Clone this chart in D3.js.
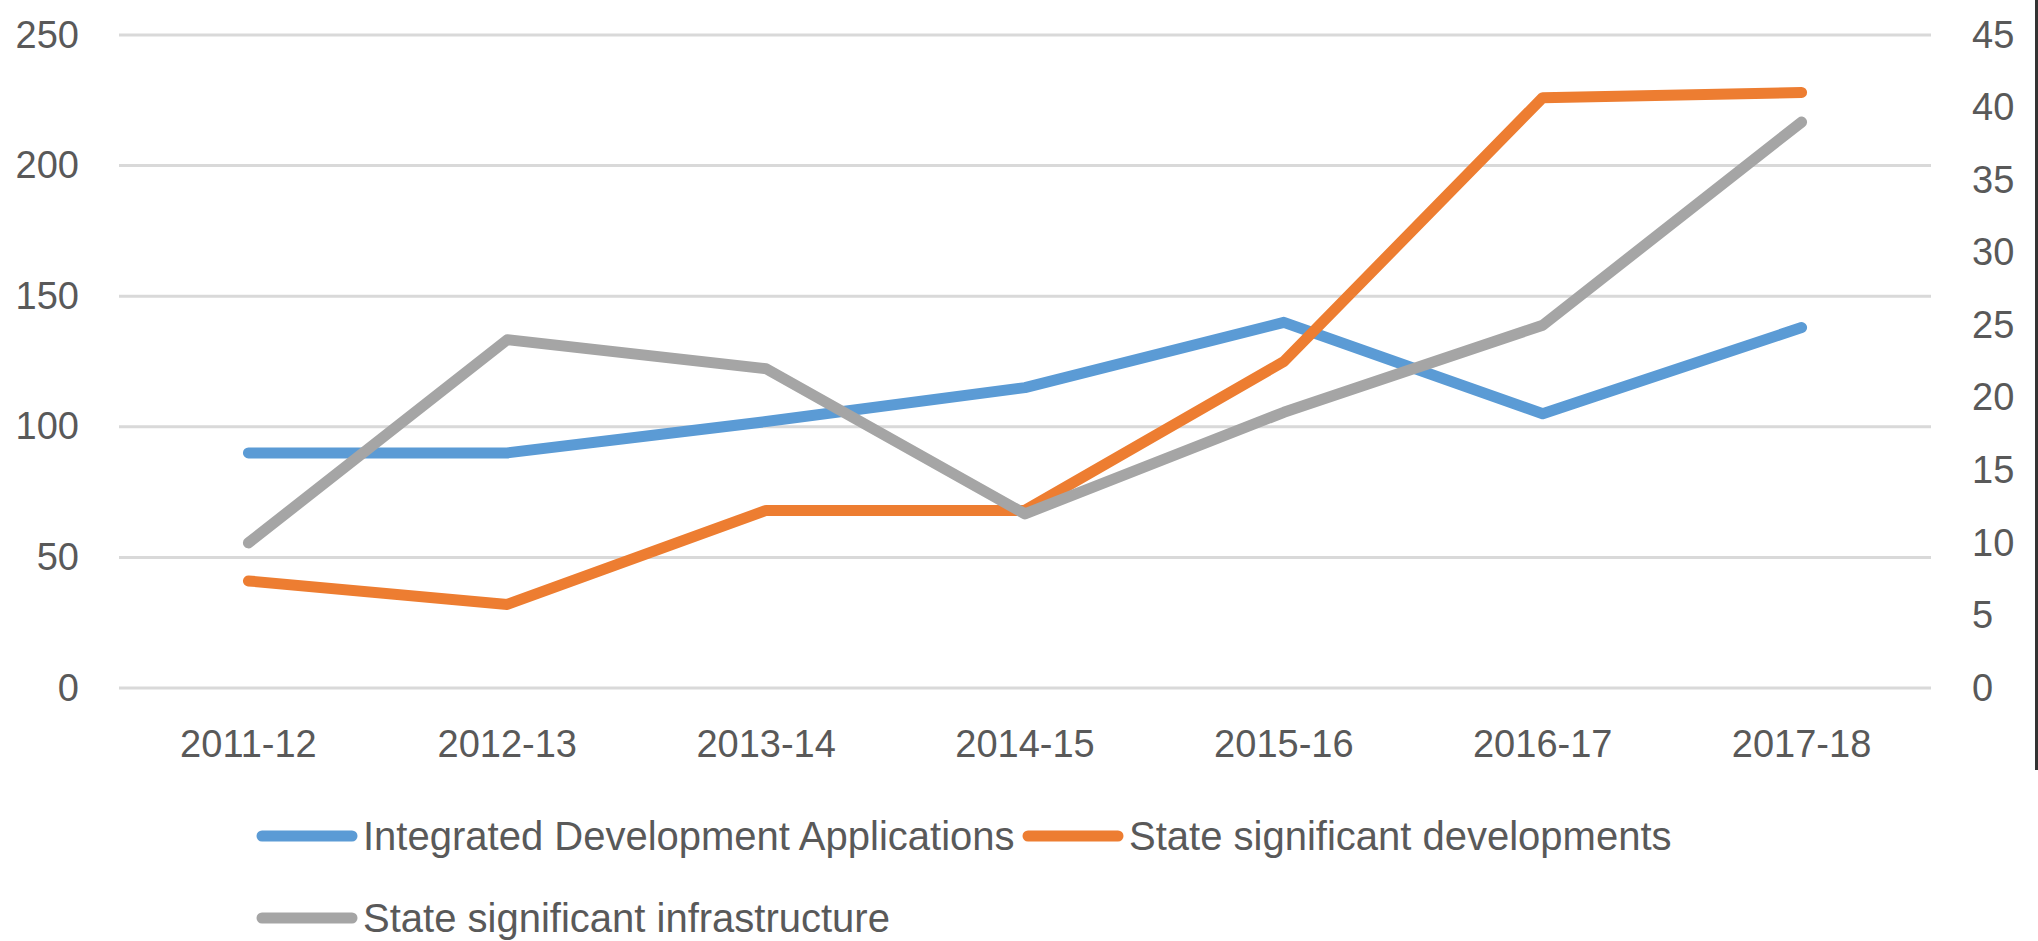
<!DOCTYPE html>
<html>
<head>
<meta charset="utf-8">
<script src="https://cdn.jsdelivr.net/npm/d3@7"></script>
<style>
	body { margin: 0; background: #fff; }
	svg { display: block; }
</style>
</head>
<body>
<script>

// categories and values
var years = ['2011-12', '2012-13', '2013-14', '2014-15', '2015-16', '2016-17', '2017-18'];

var ida = [90, 90, 102, 115, 140, 105, 138];     // left axis
var ssd = [41, 32, 68, 68, 125, 226, 228];       // left axis
var ssi = [10, 24, 22, 12, 19, 25, 39];          // right axis

var leftTicks = [0, 50, 100, 150, 200, 250],
	rightTicks = [0, 5, 10, 15, 20, 25, 30, 35, 40, 45];

var seriesNames = ['Integrated Development Applications', 'State significant developments',
	'State significant infrastructure'];

window.onload = function() {

	var width = 2038,
		height = 941;

	var plot = {left: 119, right: 1931, top: 35, bottom: 688};

	var colorIda = '#5B9BD5',
		colorSsd = '#ED7D31',
		colorSsi = '#A5A5A5',
		textColor = '#595959';

	var svg = d3.select('body').append('svg')
		.attr('width', width)
		.attr('height', height)
		.style('font-family', '"Liberation Sans", Arial, sans-serif');

	var x = d3.scaleBand()
		.domain(years)
		.range([plot.left, plot.right]);

	var yLeft = d3.scaleLinear()
		.domain([0, 250])
		.range([plot.bottom, plot.top]);

	var yRight = d3.scaleLinear()
		.domain([0, 45])
		.range([plot.bottom, plot.top]);

	// horizontal gridlines follow the left axis
	svg.append('g')
		.selectAll('line')
		.data(leftTicks)
		.enter().append('line')
		.attr('x1', plot.left)
		.attr('x2', plot.right)
		.attr('y1', function(d) { return yLeft(d); })
		.attr('y2', function(d) { return yLeft(d); })
		.attr('stroke', '#D9D9D9')
		.attr('stroke-width', 3);

	// axes, no domain lines or ticks
	var gLeft = svg.append('g')
		.attr('transform', 'translate(' + plot.left + ',0)')
		.call(d3.axisLeft(yLeft).tickValues(leftTicks).tickSize(0).tickPadding(40));

	var gRight = svg.append('g')
		.attr('transform', 'translate(' + plot.right + ',0)')
		.call(d3.axisRight(yRight).tickValues(rightTicks).tickSize(0).tickPadding(41));

	var gBottom = svg.append('g')
		.attr('transform', 'translate(0,' + plot.bottom + ')')
		.call(d3.axisBottom(x).tickSize(0).tickPadding(42));

	[gLeft, gRight, gBottom].forEach(function(g) {
		g.select('.domain').remove();
		g.selectAll('text')
			.attr('fill', textColor)
			.style('font-size', '38px')
			.style('font-family', '"Liberation Sans", Arial, sans-serif');
	});

	// lines
	function makeLine(yScale) {
		return d3.line()
			.x(function(d, i) { return x(years[i]) + x.bandwidth() / 2; })
			.y(function(d) { return yScale(d); });
	}

	var series = [
		{values: ida, scale: yLeft, color: colorIda},
		{values: ssd, scale: yLeft, color: colorSsd},
		{values: ssi, scale: yRight, color: colorSsi}
	];

	svg.append('g')
		.selectAll('path')
		.data(series)
		.enter().append('path')
		.attr('d', function(s) { return makeLine(s.scale)(s.values); })
		.attr('fill', 'none')
		.attr('stroke', function(s) { return s.color; })
		.attr('stroke-width', 11)
		.attr('stroke-linecap', 'round')
		.attr('stroke-linejoin', 'round');

	// legend
	var legendPos = [
		{x: 262, y: 836},
		{x: 1028, y: 836},
		{x: 262, y: 918}
	];

	var legend = svg.append('g')
		.selectAll('g')
		.data(series)
		.enter().append('g')
		.attr('transform', function(d, i) {
			return 'translate(' + legendPos[i].x + ',' + legendPos[i].y + ')';
		});

	legend.append('line')
		.attr('x1', 0)
		.attr('x2', 90)
		.attr('stroke', function(d) { return d.color; })
		.attr('stroke-width', 11)
		.attr('stroke-linecap', 'round');

	legend.append('text')
		.attr('x', 101)
		.attr('dy', '0.35em')
		.attr('fill', textColor)
		.style('font-size', '40px')
		.text(function(d, i) { return seriesNames[i]; });

	// dark edge on the right side of the picture
	svg.append('line')
		.attr('x1', 2036.5)
		.attr('x2', 2036.5)
		.attr('y1', 0)
		.attr('y2', 770)
		.attr('stroke', '#333')
		.attr('stroke-width', 3);
};
</script>
</body>
</html>
